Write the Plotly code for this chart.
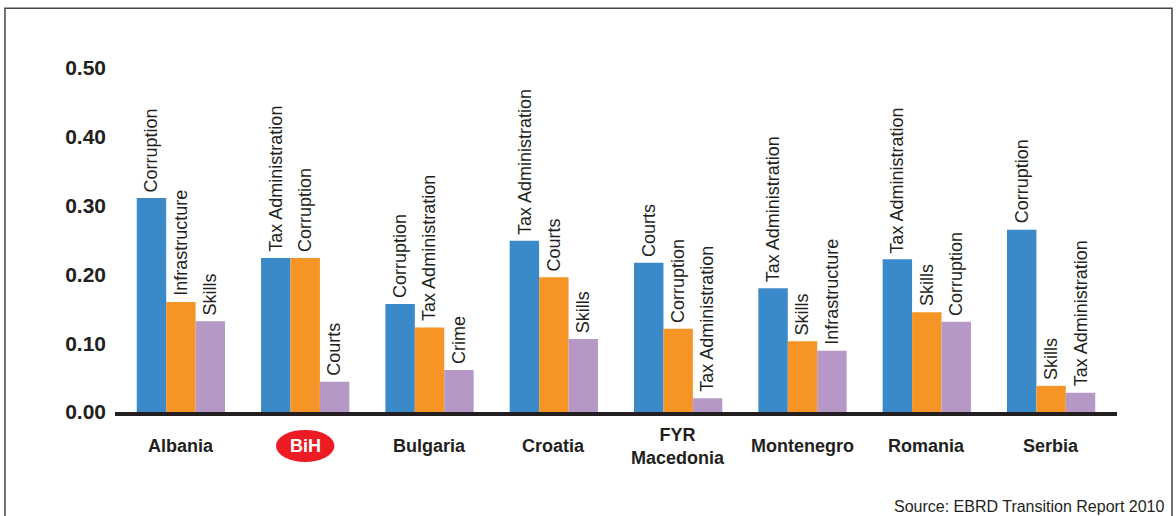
import plotly.graph_objects as go

countries = ["Albania", "BiH", "Bulgaria", "Croatia", "FYR<br>Macedonia", "Montenegro", "Romania", "Serbia"]

first_vals = [0.311, 0.224, 0.157, 0.249, 0.217, 0.180, 0.222, 0.265]
first_lbls = ["Corruption", "Tax Administration", "Corruption", "Tax Administration", "Courts",
              "Tax Administration", "Tax Administration", "Corruption"]

second_vals = [0.160, 0.224, 0.123, 0.196, 0.121, 0.103, 0.145, 0.038]
second_lbls = ["Infrastructure", "Corruption", "Tax Administration", "Courts", "Corruption",
               "Skills", "Skills", "Skills"]

third_vals = [0.132, 0.044, 0.061, 0.106, 0.020, 0.089, 0.131, 0.028]
third_lbls = ["Skills", "Courts", "Crime", "Skills", "Tax Administration",
              "Infrastructure", "Corruption", "Tax Administration"]

y_ticks = [0.0, 0.1, 0.2, 0.3, 0.4, 0.5]
highlight = "BiH"
source_text = "Source: EBRD Transition Report 2010"

FONT = "Liberation Sans, Arial, sans-serif"
TXT = "#231f20"
colors = ["#3a89c9", "#f69426", "#b598c6"]
BARGAP = 0.29

xs = list(range(len(countries)))
fig = go.Figure()
series = [(first_vals, first_lbls, colors[0]),
          (second_vals, second_lbls, colors[1]),
          (third_vals, third_lbls, colors[2])]
for vals, lbls, col in series:
    fig.add_trace(go.Bar(
        x=xs, y=vals, marker=dict(color=col, line=dict(width=0)),
        hoverinfo="skip",
    ))

annotations = []
shapes = []

# rotated labels above each bar
bw = (1 - BARGAP) / len(series)
for k, (vals, lbls, col) in enumerate(series):
    off = (k - (len(series) - 1) / 2) * bw
    for i, (v, t) in enumerate(zip(vals, lbls)):
        annotations.append(dict(x=i + off, y=v, xref="x", yref="y", text=t, textangle=-90,
                                showarrow=False, xanchor="center", yanchor="bottom", yshift=4,
                                font=dict(family=FONT, size=18, color=TXT)))

for i, c in enumerate(countries):
    if c == highlight:
        shapes.append(dict(type="circle", xref="x", yref="paper",
                           x0=i - 0.235, x1=i + 0.235, y0=-0.145, y1=-0.052,
                           fillcolor="#ed1c24", line=dict(width=0), layer="above"))
        annotations.append(dict(x=i, y=0, xref="x", yref="paper", yshift=-34,
                                text="<b>%s</b>" % c, showarrow=False, yanchor="middle",
                                font=dict(family=FONT, size=18, color="white")))
    else:
        annotations.append(dict(x=i, y=0, xref="x", yref="paper", yshift=-34,
                                text="<b>%s</b>" % c, showarrow=False, yanchor="middle",
                                font=dict(family=FONT, size=18, color=TXT)))

annotations.append(dict(x=1.049, y=-0.276, xref="paper", yref="paper", text=source_text,
                        showarrow=False, xanchor="right", yanchor="middle",
                        font=dict(family=FONT, size=16, color=TXT)))

shapes.append(dict(type="rect", xref="paper", yref="paper",
                   x0=-0.1098, x1=1.0549, y0=-0.32, y1=1.174,
                   line=dict(color="#444", width=1.5), fillcolor="rgba(0,0,0,0)", layer="below"))

fig.update_layout(
    width=1176, height=516,
    margin=dict(l=115, r=59, t=68, b=104),
    barmode="group", bargap=BARGAP, bargroupgap=0,
    showlegend=False,
    plot_bgcolor="white", paper_bgcolor="white",
    annotations=annotations, shapes=shapes,
    xaxis=dict(range=[-0.53, 7.53], showticklabels=False, showgrid=False, zeroline=False,
               showline=True, linecolor="#231f20", linewidth=4, ticks=""),
    yaxis=dict(range=[0, 0.5], tickvals=y_ticks, tickformat=".2f", showgrid=False,
               zeroline=False, showline=False, ticks="", ticklabelstandoff=8,
               tickfont=dict(family=FONT, size=21, color=TXT, weight="bold")),
)

fig.write_html("out.html")
